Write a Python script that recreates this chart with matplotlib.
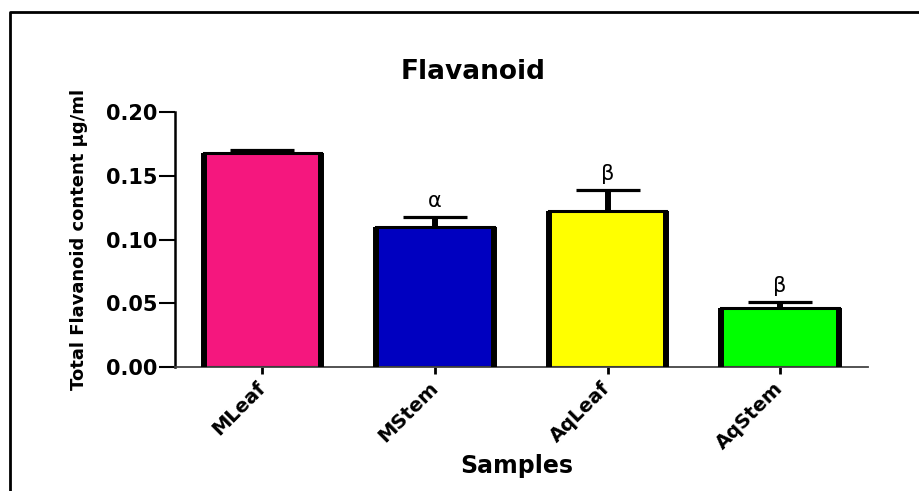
import numpy as np
import matplotlib
matplotlib.use("Agg")
import matplotlib.pyplot as plt
from matplotlib.lines import Line2D
from matplotlib.ticker import FormatStrFormatter


samples = ["MLeaf", "MStem", "AqLeaf", "AqStem"]
means = [0.168, 0.110, 0.122, 0.046]
sem = [0.002, 0.008, 0.017, 0.005]
marks = ["", "α", "β", "β"]
bar_colors = ["#F5177E", "#0000C0", "#FFFF00", "#00FF00"]
yticks = [0.00, 0.05, 0.10, 0.15, 0.20]


def main():
    plt.rcParams["font.family"] = ["DejaVu Sans"]
    plt.rcParams["font.weight"] = "bold"

    fig = plt.figure(figsize=(9.19, 4.91), dpi=100)
    ax = fig.add_axes([0.1899, 0.2525, 0.7546, 0.5193])

    x = np.arange(len(samples))
    width = 0.68

    # error bars sit behind the bars, so only the upper half shows
    ax.errorbar(x, means, yerr=sem, fmt="none", ecolor="black",
                elinewidth=4.3, capsize=23, capthick=2.3, zorder=1)
    ax.bar(x, means, width=width, color=bar_colors, edgecolor="black",
           linewidth=2.2, zorder=2)
    # heavier side walls
    ax.vlines(x - width / 2, 0, means, colors="black", linewidth=4.3, zorder=3)
    ax.vlines(x + width / 2, 0, means, colors="black", linewidth=4.3, zorder=3)

    for xi, m, e, mark in zip(x, means, sem, marks):
        if mark:
            ax.annotate(mark, xy=(xi, m + e), xytext=(0, 4),
                        textcoords="offset points", ha="center", va="bottom",
                        fontsize=15, fontweight="normal")

    ax.set_xlim(-0.51, 3.51)
    ax.set_ylim(0, 0.20)
    ax.set_yticks(yticks)
    ax.yaxis.set_major_formatter(FormatStrFormatter("%.2f"))
    ax.set_xticks(x, samples, rotation=45, ha="right", va="center",
                  rotation_mode="anchor")

    ax.spines["top"].set_visible(False)
    ax.spines["right"].set_visible(False)
    ax.spines["left"].set_linewidth(1.8)
    ax.spines["bottom"].set_linewidth(1.3)
    ax.spines["bottom"].set_color("#444444")

    ax.tick_params(axis="y", length=11.5, width=1.5, pad=1, labelsize=15)
    ax.tick_params(axis="x", length=5, width=2, pad=8, labelsize=14)

    ax.set_ylabel("Total Flavanoid content µg/ml", fontsize=13,
                  fontweight="bold")
    ax.yaxis.set_label_coords(-0.125, 0.5)

    fig.text(473 / 919, 1 - 79 / 491, "Flavanoid", ha="center",
             va="baseline", fontsize=19, fontweight="bold")
    fig.text(517 / 919, 1 - 473 / 491, "Samples", ha="center",
             va="baseline", fontsize=17, fontweight="bold")

    # frame around the figure (left and top edges)
    fy = 1 - 12 / 491
    fx = 10 / 919
    fig.add_artist(Line2D([fx, fx, 1.0], [0.0, fy, fy],
                          transform=fig.transFigure, color="black",
                          linewidth=2.0))

    fig.savefig("out.png", dpi=100)
    plt.close(fig)


if __name__ == "__main__":
    main()
